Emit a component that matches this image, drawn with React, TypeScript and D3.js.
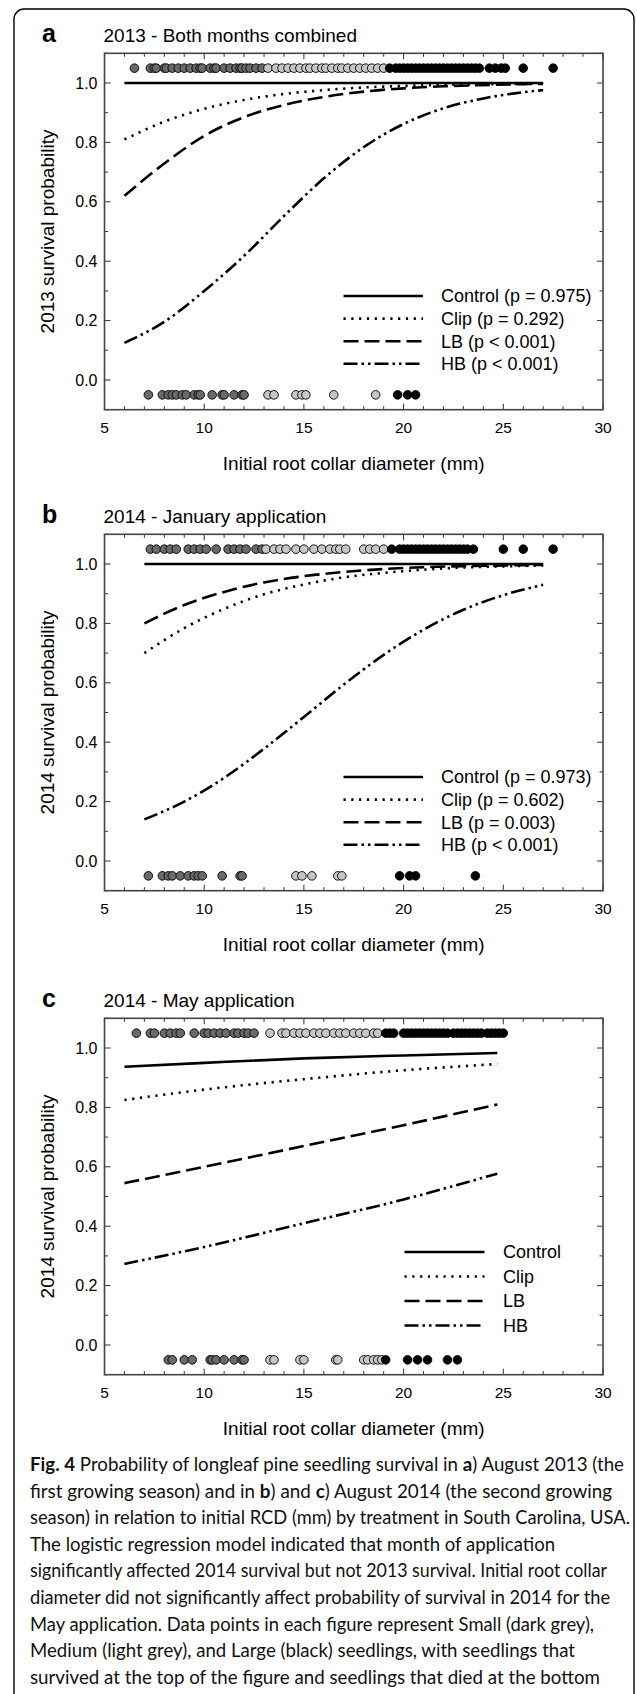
import React from 'react';
import * as d3 from 'd3';

const W = 637;
const H = 1694;

// ---- texts ----
const panelLetters = ['a', 'b', 'c'];
const panelTitles = ['2013 - Both months combined', '2014 - January application', '2014 - May application'];
const yTitles = ['2013 survival probability', '2014 survival probability', '2014 survival probability'];
const xTitle = 'Initial root collar diameter (mm)';
const legendA = ['Control (p = 0.975)', 'Clip (p = 0.292)', 'LB (p < 0.001)', 'HB (p < 0.001)'];
const legendB = ['Control (p = 0.973)', 'Clip (p = 0.602)', 'LB (p = 0.003)', 'HB (p < 0.001)'];
const legendC = ['Control', 'Clip', 'LB', 'HB'];

const xTicks = [5, 10, 15, 20, 25, 30];
const yTicks = [0, 0.2, 0.4, 0.6, 0.8, 1.0];

// ---- fitted curves ----
const aCurveX = [6, 8, 10, 12, 14, 16, 18, 20, 22, 24, 26, 27];
const aControl = [1, 1, 1, 1, 1, 1, 1, 1, 1, 1, 1, 1];
const aClip = [0.81, 0.87, 0.913, 0.943, 0.963, 0.976, 0.985, 0.99, 0.994, 0.996, 0.997, 0.998];
const aLB = [0.62, 0.729, 0.822, 0.885, 0.926, 0.953, 0.971, 0.982, 0.989, 0.993, 0.996, 0.997];
const aHB = [0.125, 0.196, 0.3, 0.418, 0.552, 0.679, 0.784, 0.862, 0.915, 0.948, 0.969, 0.976];

const bCurveX = [7, 9, 11, 13, 15, 17, 19, 21, 23, 25, 27];
const bControl = [1, 1, 1, 1, 1, 1, 1, 1, 1, 1, 1];
const bClip = [0.7, 0.784, 0.849, 0.898, 0.931, 0.955, 0.97, 0.981, 0.988, 0.992, 0.995];
const bLB = [0.8, 0.862, 0.906, 0.938, 0.959, 0.973, 0.983, 0.989, 0.993, 0.995, 0.997];
const bHB = [0.14, 0.2, 0.28, 0.378, 0.485, 0.594, 0.694, 0.779, 0.846, 0.895, 0.93];

const cCurveX = [6, 10, 15, 20, 24.7];
const cControl = [0.937, 0.95, 0.965, 0.975, 0.983];
const cClip = [0.825, 0.86, 0.895, 0.925, 0.946];
const cLB = [0.545, 0.6, 0.67, 0.74, 0.81];
const cHB = [0.273, 0.33, 0.41, 0.49, 0.577];

// ---- seedlings: RCD (mm), survived (top) / died (bottom) ----
const aSmallLive = [6.5, 7.3, 7.5, 7.6, 8.0, 8.1, 8.4, 8.7, 9.0, 9.3, 9.6, 9.8, 9.9, 10.3, 10.5, 10.6, 11.0, 11.3, 11.6, 11.8, 11.9, 12.1, 12.3, 12.6, 12.9];
const aMediumLive = [13.2, 13.6, 13.9, 14.2, 14.5, 14.8, 15.1, 15.3, 15.6, 15.9, 16.1, 16.4, 16.7, 16.9, 17.2, 17.5, 17.8, 18.1, 18.4, 18.7, 19.0];
const aLargeLive = [19.3, 19.6, 19.8, 20.0, 20.2, 20.4, 20.6, 20.8, 21.0, 21.2, 21.4, 21.6, 21.8, 22.0, 22.2, 22.4, 22.6, 22.8, 23.0, 23.2, 23.4, 23.6, 23.8, 24.3, 24.6, 24.9, 25.1, 26.0, 27.5];
const aSmallDead = [7.2, 7.9, 8.2, 8.4, 8.6, 8.9, 9.1, 9.5, 9.7, 9.8, 10.4, 10.9, 11.0, 11.5, 11.9, 12.0];
const aMediumDead = [13.2, 13.5, 14.6, 14.9, 15.1, 16.5, 18.6];
const aLargeDead = [19.7, 20.2, 20.6];

const bSmallLive = [7.3, 7.6, 8.0, 8.3, 8.6, 9.2, 9.5, 9.8, 10.1, 10.6, 11.2, 11.5, 11.8, 12.1, 12.6, 12.9];
const bMediumLive = [13.1, 13.5, 13.8, 14.1, 14.6, 15.0, 15.5, 15.9, 16.3, 16.6, 16.8, 17.1, 18.0, 18.3, 18.6, 19.0];
const bLargeLive = [19.4, 19.8, 20.0, 20.2, 20.4, 20.6, 20.8, 21.0, 21.2, 21.4, 21.6, 21.8, 22.0, 22.2, 22.4, 22.6, 22.8, 23.0, 23.2, 23.5, 25.0, 26.0, 27.5];
const bSmallDead = [7.2, 7.9, 8.2, 8.4, 8.8, 9.2, 9.5, 9.7, 9.9, 10.9, 11.8, 11.9];
const bMediumDead = [14.6, 14.9, 15.4, 16.7, 16.9];
const bLargeDead = [19.8, 20.3, 20.6, 23.6];

const cSmallLive = [6.6, 7.3, 7.5, 8.0, 8.3, 8.6, 8.8, 9.5, 10.0, 10.2, 10.5, 10.8, 11.1, 11.5, 11.7, 12.0, 12.2, 12.5];
const cMediumLive = [13.3, 13.9, 14.1, 14.5, 14.8, 15.1, 15.5, 15.8, 16.1, 16.5, 16.8, 17.1, 17.5, 17.8, 18.1, 18.5, 18.7];
const cLargeLive = [19.1, 19.3, 19.5, 20.0, 20.2, 20.4, 20.6, 20.8, 21.0, 21.2, 21.4, 21.6, 21.8, 22.0, 22.2, 22.5, 22.7, 22.9, 23.1, 23.3, 23.5, 23.7, 23.9, 24.2, 24.4, 24.6, 24.8, 25.0];
const cSmallDead = [8.2, 8.4, 9.0, 9.4, 10.3, 10.4, 10.6, 11.0, 11.5, 11.9, 12.0];
const cMediumDead = [13.3, 13.5, 14.8, 15.0, 16.6, 16.7, 18.0, 18.2, 18.5, 18.7, 18.9];
const cLargeDead = [19.1, 20.2, 20.7, 21.2, 22.2, 22.7];

// caption, one entry per printed line: [text, bold]
const captionLines: [string, boolean][][] = [
  [['Fig. 4', true], [' Probability of longleaf pine seedling survival in ', false], ['a', true], [') August 2013 (the', false]],
  [['first growing season) and in ', false], ['b', true], [') and ', false], ['c', true], [') August 2014 (the second growing', false]],
  [['season) in relation to initial RCD (mm) by treatment in South Carolina, USA.', false]],
  [['The logistic regression model indicated that month of application', false]],
  [['significantly affected 2014 survival but not 2013 survival. Initial root collar', false]],
  [['diameter did not significantly affect probability of survival in 2014 for the', false]],
  [['May application. Data points in each figure represent Small (dark grey),', false]],
  [['Medium (light grey), and Large (black) seedlings, with seedlings that', false]],
  [['survived at the top of the figure and seedlings that died at the bottom', false]],
];
const captionWidths = [594, 582, 600, 525, 577, 580, 564, 545, 570];

// ---- styles ----
const sizeColors = {small: '#6a6a6a', medium: '#c6c6c6', large: '#000'};
const lineDash = ['none', '2.2,5.6', '15,6', '14,4,2.5,4,2.5,4'];
const font = '"Liberation Sans", Arial, sans-serif';

const left = 104.5, right = 603;
const panelOffsets = [0, 481, 965];

const panelData = [
  {curveX: aCurveX, curves: [aControl, aClip, aLB, aHB], legend: legendA, legendX: [343.5, 423, 441], legendY: 296, legendStep: 22.6,
   live: [aSmallLive, aMediumLive, aLargeLive], dead: [aSmallDead, aMediumDead, aLargeDead]},
  {curveX: bCurveX, curves: [bControl, bClip, bLB, bHB], legend: legendB, legendX: [343.5, 423, 441], legendY: 296, legendStep: 22.6,
   live: [bSmallLive, bMediumLive, bLargeLive], dead: [bSmallDead, bMediumDead, bLargeDead]},
  {curveX: cCurveX, curves: [cControl, cClip, cLB, cHB], legend: legendC, legendX: [404.5, 484.5, 503], legendY: 287, legendStep: 24.5,
   live: [cSmallLive, cMediumLive, cLargeLive], dead: [cSmallDead, cMediumDead, cLargeDead]},
];

function Panel({i}: {i: number}) {
  const d = panelData[i];
  const off = panelOffsets[i];
  const top = 53.3, bottom = 409.7;
  const x = d3.scaleLinear().domain([5, 30]).range([left, right]);
  const y = d3.scaleLinear().domain([-0.1, 1.1]).range([bottom, top]);
  const fmt = d3.format('.1f');
  const line = d3.line<[number, number]>().x(p => x(p[0])).y(p => y(p[1])).curve(d3.curveMonotoneX);

  const cols = [sizeColors.small, sizeColors.medium, sizeColors.large];
  const dots: {v: number, yv: number, c: string}[] = [];
  [[d.live, 1.05], [d.dead, -0.05]].forEach(([groups, yv]: any) => {
    const row: {v: number, yv: number, c: string}[] = [];
    groups.forEach((g: number[], k: number) => g.forEach(v => row.push({v, yv, c: cols[k]})));
    row.sort((p, q) => p.v - q.v);
    dots.push(...row);
  });

  const xMinor = x.ticks(25);
  const yMinor = d3.range(-1, 12).map(k => k / 10);

  return (
    <g transform={`translate(0,${off})`}>
      <text x={42} y={42} fontFamily={font} fontWeight="bold" fontSize={25}>{panelLetters[i]}</text>
      <text x={103.5} y={42} fontFamily={font} fontSize={19}>{panelTitles[i]}</text>

      {/* inward ticks on all four sides */}
      <g stroke="#333" strokeWidth={1}>
        {xMinor.map(t => {
          const len = t % 5 === 0 ? 6 : 3.5;
          return <g key={'x' + t}>
            <line x1={x(t)} x2={x(t)} y1={bottom} y2={bottom - len} />
            <line x1={x(t)} x2={x(t)} y1={top} y2={top + len} />
          </g>;
        })}
        {yMinor.map(t => {
          const len = Math.round(t * 10) % 2 === 0 ? 6 : 3.5;
          return <g key={'y' + t}>
            <line x1={left} x2={left + len} y1={y(t)} y2={y(t)} />
            <line x1={right} x2={right - len} y1={y(t)} y2={y(t)} />
          </g>;
        })}
      </g>
      <rect x={left} y={top} width={right - left} height={bottom - top} fill="none" stroke="#444" strokeWidth={1.6} />

      {xTicks.map(t => (
        <text key={t} x={x(t)} y={bottom + 23} textAnchor="middle" fontFamily={font} fontSize={15.5}>{t}</text>
      ))}
      {yTicks.map(t => (
        <text key={t} x={97.5} y={y(t) + 5.5} textAnchor="end" fontFamily={font} fontSize={16}>{fmt(t)}</text>
      ))}
      <text x={(left + right) / 2} y={bottom + 60} textAnchor="middle" fontFamily={font} fontSize={19}>{xTitle}</text>
      <text transform={`translate(47,${(top + bottom) / 2}) rotate(-90)`} textAnchor="middle" dominantBaseline="central"
        fontFamily={font} fontSize={19}>{yTitles[i]}</text>

      {d.curves.map((c, k) => (
        <path key={k} d={line(d.curveX.map((v, j) => [v, c[j]] as [number, number])) || ''} fill="none" stroke="#000"
          strokeWidth={2.6} strokeDasharray={lineDash[k]} />
      ))}

      {dots.map((p, k) => (
        <circle key={k} cx={x(p.v)} cy={y(p.yv)} r={4.3} fill={p.c} stroke="#000" strokeWidth={0.9} />
      ))}

      {d.legend.map((lab, k) => {
        const ly = d.legendY + k * d.legendStep;
        return <g key={lab}>
          <line x1={d.legendX[0]} x2={d.legendX[1]} y1={ly} y2={ly} stroke="#000" strokeWidth={2.6} strokeDasharray={lineDash[k]} />
          <text x={d.legendX[2]} y={ly + 6.3} fontFamily={font} fontSize={18}>{lab}</text>
        </g>;
      })}
    </g>
  );
}

export default function App() {
  return (
    <svg width={W} height={H} style={{position: 'absolute', left: 0, top: 0, background: '#fff'}}>
      <rect x={14} y={9} width={620} height={1720} rx={10} fill="#fff" stroke="#000" strokeWidth={1.4} />
      {[0, 1, 2].map(i => <Panel key={i} i={i} />)}
      {captionLines.map((segs, k) => (
        <text key={k} x={30} y={1471 + k * 26.6} fontFamily='Lato, "Open Sans", sans-serif' fontSize={18.5}
          textLength={captionWidths[k]} lengthAdjust="spacingAndGlyphs" fill="#111">
          {segs.map(([t, b], j) => <tspan key={j} fontWeight={b ? 'bold' : 'normal'}>{t}</tspan>)}
        </text>
      ))}
    </svg>
  );
}
